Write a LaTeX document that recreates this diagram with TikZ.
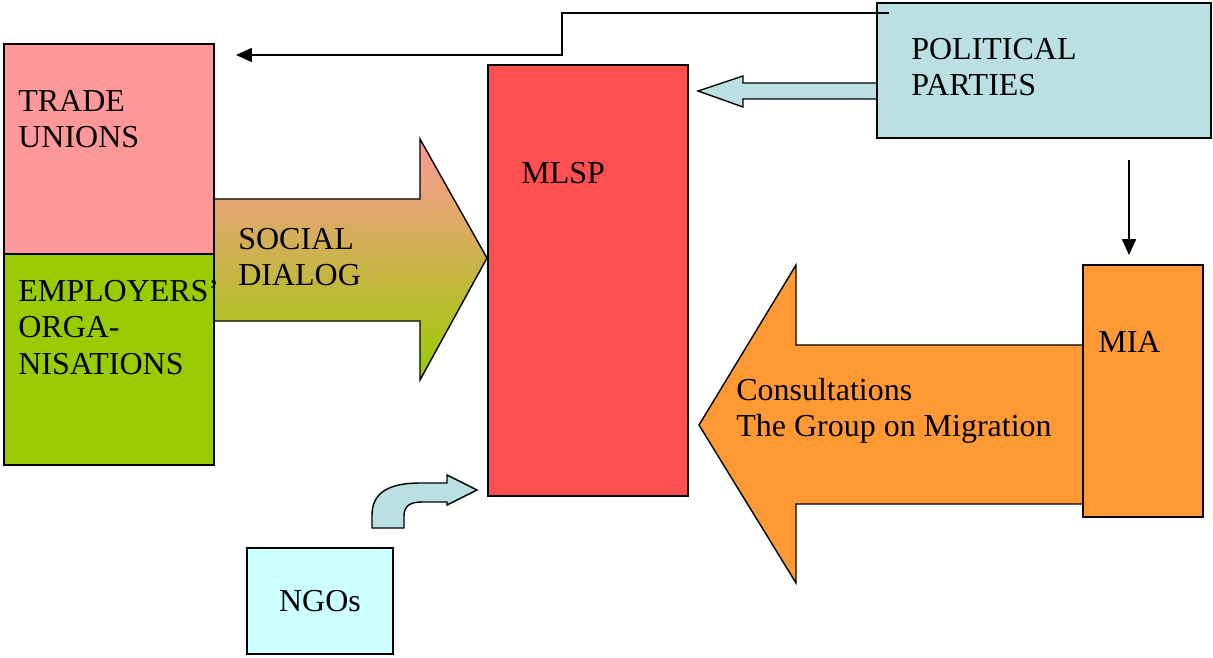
\documentclass[tikz,border=0pt]{standalone}
\usepackage{fontspec}
\setmainfont{Liberation Serif}
\usetikzlibrary{arrows.meta}
\definecolor{tupink}{HTML}{FF9999}
\definecolor{empgreen}{HTML}{99CC00}
\definecolor{mlspred}{HTML}{FF5050}
\definecolor{ppblue}{HTML}{BBE0E3}
\definecolor{ngocyan}{HTML}{CCFFFF}
\definecolor{miaorange}{HTML}{FF9933}
\begin{document}
\begin{tikzpicture}[x=0.02cm,y=-0.02cm,
  box/.style={draw=black,line width=0.8pt,inner sep=0pt,outer sep=0pt},
  blockarrow/.style={draw=black,line width=0.8pt,line join=miter},
  lbl/.style={anchor=north west,inner sep=0pt,align=left,font=\fontsize{18.2}{20.7}\selectfont},
  conn/.style={draw=black,line width=0.8pt,-{Triangle[length=9pt,width=8pt]}}]
\useasboundingbox (0,0) rectangle (1213,658);
% block arrows
\path[blockarrow,top color=tupink,bottom color=empgreen,shading angle=0]
  (214,199) -- (420,199) -- (420,139) -- (487,258) -- (420,380) -- (420,321) -- (214,321) -- cycle;
\path[blockarrow,fill=ppblue]
  (877,83) -- (743,83) -- (743,76) -- (698,91) -- (743,107) -- (743,99) -- (877,99);
\path[blockarrow,fill=miaorange]
  (1083,345) -- (796,345) -- (796,265) -- (699,425) -- (796,583) -- (796,504) -- (1083,504);
\path[blockarrow,fill=ppblue]
  (372,528) -- (372,515) .. controls (372,492) and (390,483) .. (420,483) -- (447,483) -- (447,475)
  -- (477,490) -- (447,505) -- (447,502) -- (422,502) .. controls (410,502) and (404,506) .. (404,516)
  -- (404,528) -- cycle;
% boxes
\node[box,fill=tupink,minimum width=4.2cm,minimum height=4.2cm] (tu) at (109,149) {};
\node[box,fill=empgreen,minimum width=4.2cm,minimum height=4.22cm] (emp) at (109,359.5) {};
\node[box,fill=mlspred,minimum width=4cm,minimum height=8.62cm] (mlsp) at (588,280.5) {};
\node[box,fill=ppblue,minimum width=6.68cm,minimum height=2.7cm] (pp) at (1044,70.5) {};
\node[box,fill=miaorange,minimum width=2.4cm,minimum height=5.04cm] (mia) at (1143,391) {};
\node[box,fill=ngocyan,minimum width=2.92cm,minimum height=2.12cm] (ngo) at (320,601) {};
% labels
\node[lbl] (tut) at (18,90) {TRADE\\UNIONS};
\node[lbl] (empt) at (18,280) {EMPLOYERS’\\ORGA-\\NISATIONS};
\node[lbl] (sdt) at (238,228) {SOCIAL\\DIALOG};
\node[lbl] (mlspt) at (521,162) {MLSP};
\node[lbl] (ppt) at (911,38) {POLITICAL\\PARTIES};
\node[lbl] (miat) at (1098,331) {MIA};
\node[lbl] (cont) at (736,378) {Consultations\\The Group on Migration};
\node[font=\fontsize{18.2}{20.7}\selectfont,inner sep=0pt] (ngot) at (ngo.center) {NGOs};
% connectors
\coordinate (ppl) at (889,13);
\coordinate (tuend) at (236,55);
\draw[conn] (ppl) -- (562,13) -- (562,55) -- (tuend);
\coordinate (ppb) at (1129,160);
\coordinate (miatop) at (1129,255);
\draw[conn] (ppb) -- (miatop);
\end{tikzpicture}
\end{document}
